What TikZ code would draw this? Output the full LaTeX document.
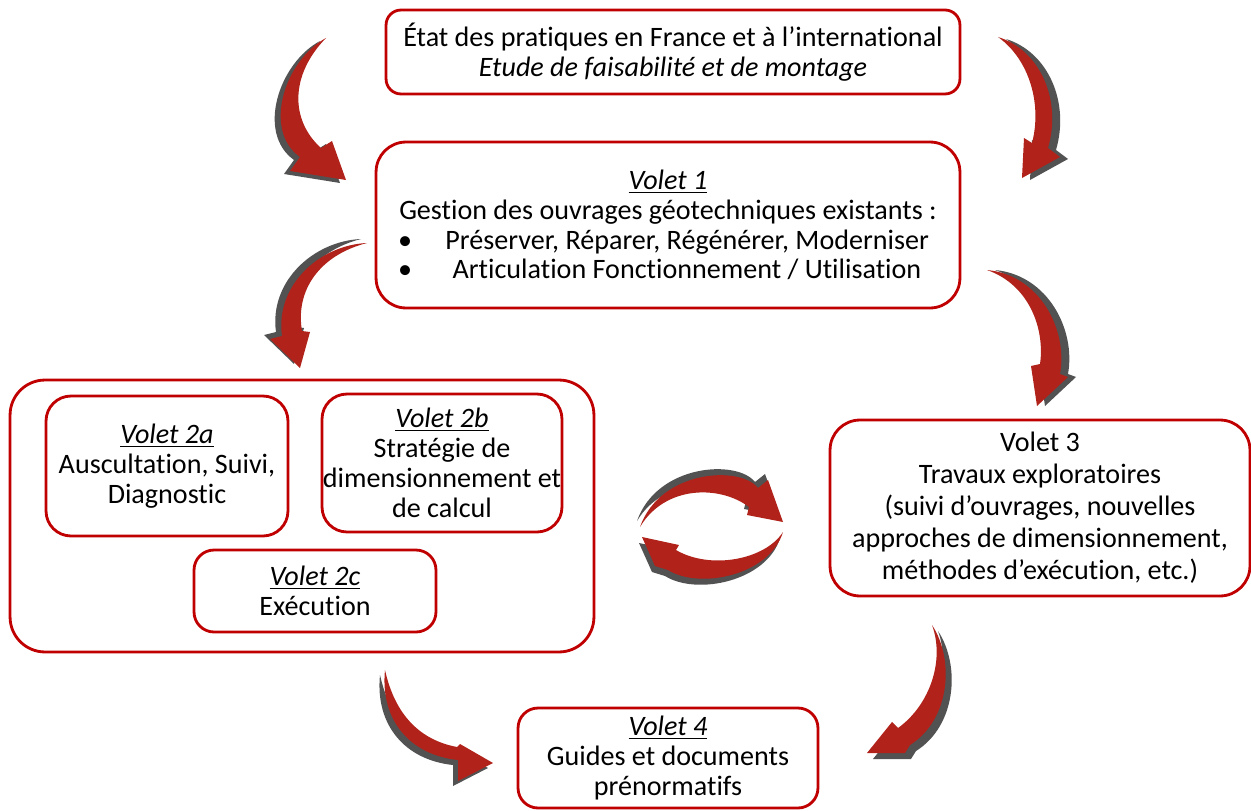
\documentclass[tikz,border=0pt]{standalone}
\usepackage{fontspec}
\setmainfont{Carlito}[Ligatures={TeX,NoCommon}]
\usepackage{tikz}

\definecolor{bordure}{HTML}{C00000}
\definecolor{rougefleche}{HTML}{B0221A}
\definecolor{grisfleche}{HTML}{525252}

\tikzset{
  boite/.style={draw=bordure, line width=1.6pt, rounded corners=#1, align=center, inner sep=0pt, fill=white},
  boite/.default=0.5cm,
  corps/.style={fill=rougefleche},
  ombre/.style={fill=grisfleche},
}

\newcommand{\fleche}[2]{%
  \fill[ombre,shift={#1}] #2;
  \fill[corps] #2;}
\newcommand{\titre}[1]{\underline{\textit{#1}}}
\newcommand{\puce}[1]{\makebox[10.8cm][l]{\textbullet\hspace{0.1cm}\makebox[10.8cm]{#1}}}

\begin{document}
\begin{tikzpicture}[x=0.02cm,y=-0.02cm,font=\fontsize{16}{17}\selectfont]
    \useasboundingbox (0,0) rectangle (1251,811);

    % fleches courbes
    \fleche{(-6,3)}{(326,38) .. controls (285,60) and (262,130) .. (300,157) -- (290,171) -- (346,180) -- (332,141) -- (321,148) .. controls (290,120) and (290,75) .. (326,38)}
    \fleche{(8,2)}{(998,37) .. controls (1040,50) and (1062,100) .. (1048,148) -- (1060,157) -- (1022,178) -- (1024,138) -- (1032,143) .. controls (1042,105) and (1030,60) .. (998,37)}
    \fleche{(-6,-4)}{(367,243) .. controls (320,245) and (275,285) .. (282,336) -- (270,339) -- (300,368) -- (310,332) -- (302,331) .. controls (295,290) and (320,255) .. (367,243)}
    \fleche{(8,0)}{(987,270) .. controls (1040,275) and (1068,330) .. (1060,374) -- (1068,377) -- (1037,406) -- (1031,366) -- (1040,364) .. controls (1045,330) and (1030,285) .. (987,270)}
    \fleche{(6,6)}{(932,625) .. controls (955,660) and (950,720) .. (910,745) -- (905,753) -- (867,753) -- (892,722) -- (898,728) .. controls (930,705) and (945,660) .. (932,625)}
    \fleche{(-5,5)}{(385,670) .. controls (380,720) and (410,755) .. (458,760) -- (458,781) -- (493,763) -- (460,744) -- (457,747) .. controls (420,740) and (395,715) .. (385,670)}
    % cycle
    \fleche{(-3,-6)}{(640,527) .. controls (660,470) and (740,465) .. (758,488) -- (768,480) -- (783,522) -- (747,515) -- (749,507) .. controls (720,485) and (665,485) .. (640,527)}
    \fleche{(-3,6)}{(783,532) .. controls (770,575) and (700,590) .. (668,570) -- (655,566) -- (642,537) -- (679,545) -- (676,550) .. controls (710,570) and (765,560) .. (783,532)}

    % boites
    \node[boite=0.3cm, minimum width=11.48cm, minimum height=1.68cm] (etat) at (673,52)
        {État des pratiques en France et à l’international\\ \textit{Etude de faisabilité et de montage}};
    \node[boite=0.6cm, minimum width=11.68cm, minimum height=3.32cm] (volet1) at (668,225)
        {\titre{Volet 1}\\ Gestion des ouvrages géotechniques existants :\\
         \puce{Préserver, Réparer, Régénérer, Moderniser}\\
         \puce{Articulation Fonctionnement / Utilisation}};
    \node[boite=0.7cm, minimum width=11.68cm, minimum height=5.44cm] (volet2) at (302,516) {};
    \node[boite=0.5cm, minimum width=4.84cm, minimum height=2.8cm] (volet2a) at (167,466)
        {\titre{Volet 2a}\\ Auscultation, Suivi,\\ Diagnostic};
    \node[boite=0.5cm, minimum width=4.8cm, minimum height=2.76cm] (volet2b) at (442,463)
        {\titre{Volet 2b}\\ Stratégie de\\ dimensionnement et\\ de calcul};
    \node[boite=0.4cm, minimum width=4.84cm, minimum height=1.64cm] (volet2c) at (315,591)
        {\titre{Volet 2c}\\ Exécution};
    \node[boite=0.6cm, minimum width=8.4cm, minimum height=3.52cm, font=\fontsize{16}{18.2}\selectfont] (volet3) at (1040,508)
        {Volet 3\\ Travaux exploratoires\\ (suivi d’ouvrages, nouvelles\\ approches de dimensionnement,\\ méthodes d’exécution, etc.)};
    \node[boite=0.4cm, minimum width=6cm, minimum height=2cm] (volet4) at (668,758)
        {\titre{Volet 4}\\ Guides et documents\\ prénormatifs};
\end{tikzpicture}
\end{document}
